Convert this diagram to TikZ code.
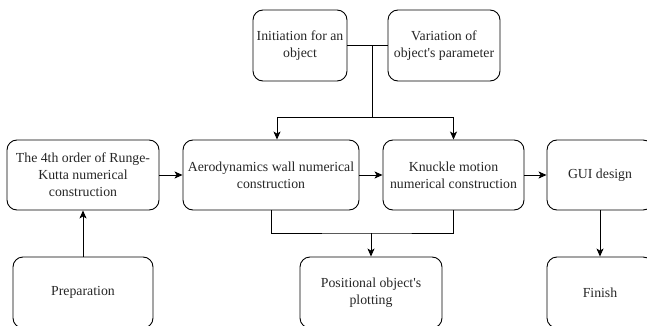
\documentclass[tikz,border=0pt]{standalone}
\usepackage{fontspec}
\setmainfont{Liberation Serif}[Ligatures=TeXOff]
\usetikzlibrary{arrows.meta}
\begin{document}
\begin{tikzpicture}[x=1pt,y=-1pt,
  box/.style={draw, line width=0.9pt, rounded corners=10pt, align=center,
    inner sep=0pt, font=\fontsize{13.8}{17}\selectfont, text=black!85},
  conn/.style={line width=0.9pt},
  arr/.style={conn, -{Stealth[length=8pt,width=7pt,inset=2pt]}}]
\useasboundingbox (0,0) rectangle (647,326);
\node[box, minimum width=94pt, minimum height=71pt] (init) at (300,45.5) {Initiation for an\\object};
\node[box, minimum width=112pt, minimum height=71pt] (var) at (444,45.5) {Variation of\\object's parameter};
\node[box, minimum width=152pt, minimum height=70pt] (rk) at (83,175) {The 4th order of Runge-\\Kutta numerical\\construction};
\node[box, minimum width=176pt, minimum height=70pt] (aero) at (271,175) {Aerodynamics wall numerical\\construction};
\node[box, minimum width=141pt, minimum height=70pt] (knuck) at (453.5,175) {Knuckle motion\\numerical construction};
\node[box, minimum width=106pt, minimum height=70pt] (gui) at (600,175) {GUI design};
\node[box, minimum width=140pt, minimum height=71pt] (prep) at (83,292.5) {Preparation};
\node[box, minimum width=142pt, minimum height=71pt] (pos) at (371,292.5) {Positional object's\\plotting};
\node[box, minimum width=106pt, minimum height=71pt] (fin) at (600,292.5) {Finish};
% top connectors
\draw[conn] (init.east) -- (var.west);
\coordinate (J) at (372,45.5);
\coordinate (T) at (372,117);
\coordinate (TL) at (277,117);
\draw[conn] (J) -- (T);
\draw[arr] (T) -- (TL) -- (TL |- aero.north);
\draw[arr] (T) -| (knuck.north);
% middle row
\draw[arr] (rk.east) -- (aero.west);
\draw[arr] (aero.east) -- (knuck.west);
\draw[arr] (knuck.east) -- (gui.west);
% verticals
\draw[arr] (prep.north) -- (rk.south);
\coordinate (B) at (371,233);
\draw[conn] (aero.south) |- (B) -| (knuck.south);
\draw[arr] (B) -- (pos.north);
\draw[arr] (gui.south) -- (fin.north);
\end{tikzpicture}
\end{document}
